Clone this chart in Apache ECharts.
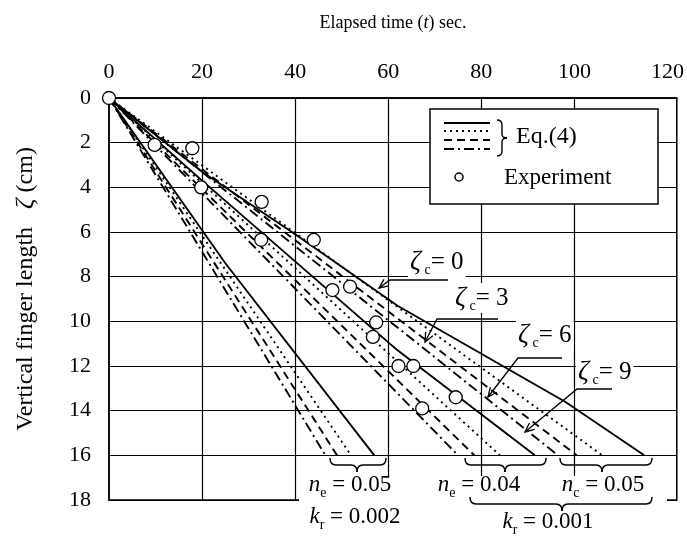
<!DOCTYPE html>
<html>
<head>
<meta charset="utf-8">
<script src="https://cdn.jsdelivr.net/npm/echarts@6/dist/echarts.min.js"></script>
<style>
html,body{margin:0;padding:0;background:#fff;}
#chart{width:687px;height:537px;}
</style>
</head>
<body>
<div id="chart"></div>
<script>
// ---------- data ----------
const xGridTicks = [20, 40, 60, 80, 100];          // vertical grid lines (sec)
const xLabelTicks = [0, 20, 40, 60, 80, 100, 120]; // labelled ticks

// Experiment
const expTime = [0, 9.8, 17.9, 19.8, 32.8, 32.7, 44, 48, 51.8, 57.4, 56.7, 62.2, 65.4, 74.5, 67.3];
const expZeta = [0, 2.1, 2.25, 4.0, 4.65, 6.35, 6.35, 8.6, 8.45, 10.05, 10.7, 12.0, 12.0, 13.4, 13.9];

// Eq.(4): k_r = 0.002, n_e = 0.05
const a_solid_t = [0, 25, 57];        const a_solid_z = [0, 7.4, 16];
const a_dot_t   = [0, 52];            const a_dot_z   = [0, 16];
const a_dash_t  = [0, 49];            const a_dash_z  = [0, 16];
const a_dd_t    = [0, 46.5];          const a_dd_z    = [0, 16];
// k_r = 0.001, n_e = 0.04
const b_solid_t = [0, 20, 62, 91.5];  const b_solid_z = [0, 3.7, 11.3, 16];
const b_dot_t   = [0, 84];            const b_dot_z   = [0, 16];
const b_dash_t  = [0, 78.5];          const b_dash_z  = [0, 16];
const b_dd_t    = [0, 75];            const b_dd_z    = [0, 16];
// k_r = 0.001, n_c = 0.05
const c_solid_t = [0, 20, 40, 62, 98, 115]; const c_solid_z = [0, 3.3, 6.1, 9.3, 13.6, 16];
const c_dot_t   = [0, 106];           const c_dot_z   = [0, 16];
const c_dash_t  = [0, 100.5];         const c_dash_z  = [0, 16];
const c_dd_t    = [0, 96.5];          const c_dd_z    = [0, 16];

// ---------- helpers ----------
const FONT = 'Liberation Serif';
const zip = (t, z) => t.map((v, i) => [v, z[i]]);
const DOT = [2, 4], DASH = [8, 5], DASHDOT = [10, 4, 2, 4];

function lineSeries(t, z, type) {
  return {
    type: 'line', data: zip(t, z), showSymbol: false, symbol: 'none', z: 3,
    lineStyle: { color: '#000', width: 1.9, type: type },
    silent: true
  };
}
const STK = lw => ({ fill: null, stroke: '#000', lineWidth: lw || 1.5 });
function qc(x1, y1, cx, cy, x2, y2, lw) {
  return { type: 'bezierCurve', z: 60, shape: { x1: x1, y1: y1, x2: x2, y2: y2, cpx1: cx, cpy1: cy }, style: STK(lw) };
}
function ln(x1, y1, x2, y2, lw) {
  return { type: 'line', z: 60, shape: { x1: x1, y1: y1, x2: x2, y2: y2 }, style: STK(lw) };
}
function hBrace(x1, x2, xt, y0, h) {
  const ym = y0 + h / 2, yt = y0 + h, r = 6;
  return [
    qc(x1, y0, x1, ym, x1 + r, ym), ln(x1 + r, ym, xt - r, ym),
    qc(xt - r, ym, xt, ym, xt, yt), qc(xt, yt, xt, ym, xt + r, ym),
    ln(xt + r, ym, x2 - r, ym), qc(x2 - r, ym, x2, ym, x2, y0)
  ];
}
function vBrace(x0, y1, y2) {
  const yc = (y1 + y2) / 2, xm = x0 + 5, xt = x0 + 10, lw = 1.4;
  return [
    qc(x0, y1, xm, y1, xm, y1 + 5, lw), ln(xm, y1 + 5, xm, yc - 4, lw),
    qc(xm, yc - 4, xm, yc, xt, yc, lw), qc(xt, yc, xm, yc, xm, yc + 4, lw),
    ln(xm, yc + 4, xm, y2 - 5, lw), qc(xm, y2 - 5, xm, y2, x0, y2, lw)
  ];
}
function arrowEls(hx2, hx1, hy, tx, ty) {
  const dx = tx - hx1, dy = ty - hy, L = Math.hypot(dx, dy), ux = dx / L, uy = dy / L;
  const len = 10, a = 0.42;
  const w = s => [tx - len * (ux * Math.cos(s * a) - uy * Math.sin(s * a)),
                  ty - len * (ux * Math.sin(s * a) + uy * Math.cos(s * a))];
  return [
    { type: 'polyline', z: 60, shape: { points: [[hx2, hy], [hx1, hy], [tx, ty]] }, style: STK(1.3) },
    { type: 'polyline', z: 60, shape: { points: [w(1), [tx, ty], w(-1)] }, style: STK(1.3) }
  ];
}
const subRich = {
  m: { fontFamily: FONT, fontStyle: 'italic', fontSize: 23, lineHeight: 30, verticalAlign: 'middle', fill: '#000' },
  z: { fontFamily: FONT, fontStyle: 'italic', fontSize: 27, lineHeight: 30, verticalAlign: 'middle', fill: '#000' },
  s: { fontFamily: FONT, fontSize: 14, lineHeight: 14, verticalAlign: 'bottom', fill: '#000' },
  r: { fontFamily: FONT, fontSize: 23, lineHeight: 30, verticalAlign: 'middle', fill: '#000' },
  r2: { fontFamily: FONT, fontSize: 25, lineHeight: 30, verticalAlign: 'middle', fill: '#000' }
};
function richText(text, x, y, align, bg) {
  const st = { text: text, rich: subRich, align: align, verticalAlign: 'middle',
               font: '23px ' + FONT, fill: '#000' };
  if (bg) { st.backgroundColor = bg; st.padding = [0, 2]; }
  return { type: 'text', z: 65, x: x, y: y, style: st };
}
function plainText(text, x, y, size) {
  return { type: 'text', z: 65, x: x, y: y,
    style: { text: text, font: size + 'px ' + FONT, fill: '#000', align: 'left', verticalAlign: 'middle' } };
}

// ---------- graphics (legend & annotations) ----------
const graphics = [
  { type: 'rect', z: 50, shape: { x: 299, y: 476, width: 368, height: 61 }, style: { fill: '#fff' } },
  { type: 'rect', z: 50, shape: { x: 430, y: 109, width: 228, height: 95 }, style: { fill: '#fff', stroke: '#000', lineWidth: 1.5 } },
  { type: 'line', z: 60, shape: { x1: 444, y1: 123, x2: 490, y2: 123 }, style: { stroke: '#000', lineWidth: 1.8 } },
  { type: 'line', z: 60, shape: { x1: 444, y1: 131, x2: 490, y2: 131 }, style: { stroke: '#000', lineWidth: 1.8, lineDash: DOT } },
  { type: 'line', z: 60, shape: { x1: 444, y1: 140, x2: 490, y2: 140 }, style: { stroke: '#000', lineWidth: 1.8, lineDash: DASH } },
  { type: 'line', z: 60, shape: { x1: 444, y1: 149, x2: 490, y2: 149 }, style: { stroke: '#000', lineWidth: 1.8, lineDash: DASHDOT } },
  ...vBrace(497, 120, 156),
  plainText('Eq.(4)', 516, 137, 24),
  { type: 'circle', z: 60, shape: { cx: 459, cy: 177, r: 4 }, style: { fill: '#fff', stroke: '#000', lineWidth: 1.5 } },
  plainText('Experiment', 504, 178, 23),

  richText('{z|ζ}{s| c}{r2|= 0}', 408, 262, 'left', '#fff'),
  ...arrowEls(448, 390, 280, 379, 288),
  richText('{z|ζ}{s| c}{r2|= 3}', 453, 298, 'left', '#fff'),
  ...arrowEls(498, 437, 319, 425, 342),
  richText('{z|ζ}{s| c}{r2|= 6}', 516, 335, 'left', '#fff'),
  ...arrowEls(562, 518, 358, 488, 397),
  richText('{z|ζ}{s| c}{r2|= 9}', 576, 372, 'left', '#fff'),
  ...arrowEls(612, 577, 389, 525, 432),

  ...hBrace(330, 386, 357, 458, 14),
  ...hBrace(465, 546, 505, 458, 14),
  ...hBrace(560, 652, 602, 458, 14),
  ...hBrace(470, 652, 562, 497, 14),
  richText('{m|n}{s|e}{r| = 0.05}', 350, 485, 'center'),
  richText('{m|k}{s|r}{r| = 0.002}', 355, 517, 'center'),
  richText('{m|n}{s|e}{r| = 0.04}', 479, 485, 'center'),
  richText('{m|n}{s|c}{r| = 0.05}', 603, 485, 'center'),
  richText('{m|k}{s|r}{r| = 0.001}', 548, 522, 'center')
];

// ---------- chart ----------
const chart = echarts.init(document.getElementById('chart'), null, { renderer: 'canvas' });
chart.setOption({
  animation: false,
  backgroundColor: '#fff',
  grid: { left: 109, right: 3, top: 98, bottom: 37, show: true, borderColor: '#000', borderWidth: 1.5, backgroundColor: 'transparent' },
  xAxis: {
    type: 'value', position: 'top', min: 0, max: 122, interval: 20,
    name: '{a|Elapsed time (}{b|t}{a|) sec.}', nameLocation: 'middle', nameGap: 66,
    nameTextStyle: { rich: { a: { fontFamily: FONT, fontSize: 18, color: '#000' }, b: { fontFamily: FONT, fontSize: 18, fontStyle: 'italic', color: '#000' } } },
    axisLine: { show: true, onZero: false, lineStyle: { color: '#000', width: 1.5 } },
    axisTick: { show: false },
    axisLabel: { color: '#000', fontFamily: FONT, fontSize: 22, margin: 15,
      formatter: v => (xLabelTicks.indexOf(v) >= 0 ? String(v) : '') },
    splitLine: { show: false }
  },
  yAxis: {
    type: 'value', inverse: true, min: 0, max: 18, interval: 2,
    name: '{a|Vertical finger length   }{b|ζ}{a| (cm)}', nameLocation: 'middle', nameGap: 70, nameRotate: 90,
    nameTextStyle: { padding: [0, 0, 0, 20], rich: { a: { fontFamily: FONT, fontSize: 24, color: '#000' }, b: { fontFamily: FONT, fontSize: 26, fontStyle: 'italic', color: '#000' } } },
    axisLine: { show: true, onZero: false, lineStyle: { color: '#000', width: 1.5 } },
    axisTick: { show: false },
    axisLabel: { color: '#000', fontFamily: FONT, fontSize: 22, margin: 18, padding: [0, 0, 12, 0] },
    splitLine: { show: true, lineStyle: { color: '#000', width: 1.2 } }
  },
  series: [
    { type: 'line', data: [], z: 1, silent: true,
      markLine: { silent: true, symbol: 'none', label: { show: false }, animation: false,
        lineStyle: { color: '#000', width: 1.2, type: 'solid' },
        data: xGridTicks.map(t => ({ xAxis: t })) } },
    lineSeries(a_solid_t, a_solid_z, 'solid'),
    lineSeries(a_dot_t, a_dot_z, DOT),
    lineSeries(a_dash_t, a_dash_z, DASH),
    lineSeries(a_dd_t, a_dd_z, DASHDOT),
    lineSeries(b_solid_t, b_solid_z, 'solid'),
    lineSeries(b_dot_t, b_dot_z, DOT),
    lineSeries(b_dash_t, b_dash_z, DASH),
    lineSeries(b_dd_t, b_dd_z, DASHDOT),
    lineSeries(c_solid_t, c_solid_z, 'solid'),
    lineSeries(c_dot_t, c_dot_z, DOT),
    lineSeries(c_dash_t, c_dash_z, DASH),
    lineSeries(c_dd_t, c_dd_z, DASHDOT),
    { type: 'scatter', name: 'Experiment', data: zip(expTime, expZeta), symbol: 'circle', symbolSize: 13, z: 10,
      itemStyle: { color: '#fff', borderColor: '#000', borderWidth: 1.3, opacity: 1 } }
  ],
  graphic: graphics
});
</script>
</body>
</html>
